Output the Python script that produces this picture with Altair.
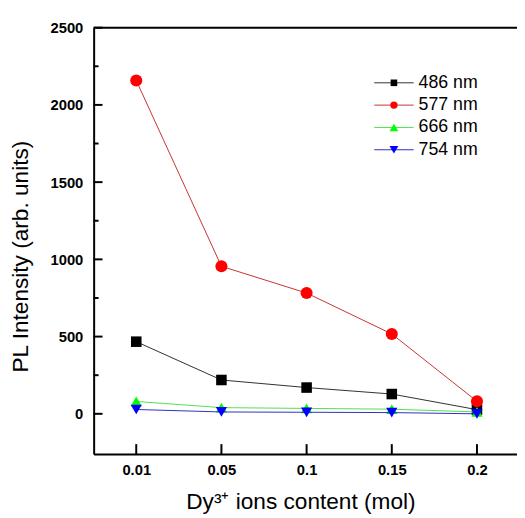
import json
import altair as alt
import pandas as pd

categories = ["0.01", "0.05", "0.1", "0.15", "0.2"]
series = ["486 nm", "577 nm", "666 nm", "754 nm"]
v486 = [467, 219, 170, 128, 27]
v577 = [2158, 955, 782, 517, 81]
v666 = [80, 40, 35, 30, 12]
v754 = [28, 12, 10, 8, 0]
marker_colors = ["#000000", "#ff0000", "#00ff00", "#0000ff"]
line_colors = ["#303030", "#c83232", "#50e050", "#3030c0"]
shapes = ["square", "circle", "triangle-up", "triangle-down"]
marker_sizes = [115, 150, 130, 130]
legend_sizes = [45, 55, 80, 80]
y_major = [0, 500, 1000, 1500, 2000, 2500]
y_minor = [250, 750, 1250, 1750, 2250]

rows = []
for name, vals in zip(series, [v486, v577, v666, v754]):
    for i, v in enumerate(vals):
        rows.append({"series": name, "xi": i, "value": v})
df = pd.DataFrame(rows)

W, H = 430, 433
FONT = "Liberation Sans"

xscale = alt.Scale(domain=[-0.5, 4.47], nice=False, zero=False)
yscale = alt.Scale(domain=[-260, 2500], nice=False, zero=False)

xaxis = alt.Axis(
    values=list(range(len(categories))),
    labelExpr=json.dumps(categories) + "[datum.value]",
    title="Dy³⁺ ions content (mol)",
    domain=True, domainColor="black", domainWidth=2,
    ticks=False, grid=False,
    labelFont=FONT, labelFontSize=15, labelFontWeight="bold", labelColor="black",
    labelPadding=9, labelFlush=False, labelOverlap=False,
    titleFont=FONT, titleFontSize=23, titleFontWeight="normal", titleColor="black",
    titleX=210, titleY=48, titleAlign="center", titleBaseline="middle",
)
yaxis = alt.Axis(
    values=y_major, format="d",
    title="PL Intensity (arb. units)",
    domain=True, domainColor="black", domainWidth=2,
    ticks=False, grid=False,
    labelFont=FONT, labelFontSize=15, labelFontWeight="bold", labelColor="black",
    labelPadding=11, labelFlush=False, labelOverlap=False,
    titleFont=FONT, titleFontSize=23, titleFontWeight="normal", titleColor="black",
    titleX=-74, titleY=232, titleAngle=270, titleAlign="center", titleBaseline="middle",
)

X = alt.X("xi:Q", scale=xscale, axis=xaxis)
Y = alt.Y("value:Q", scale=yscale, axis=yaxis)

base = alt.Chart(df)
data_layers = []
for i, name in enumerate(series):
    sub = base.transform_filter(alt.datum.series == name)
    data_layers.append(
        sub.mark_line(color=line_colors[i], strokeWidth=1).encode(x=X, y=Y)
    )
    data_layers.append(
        sub.mark_point(filled=True, shape=shapes[i], size=marker_sizes[i],
                       color=marker_colors[i], opacity=1).encode(x=X, y=Y)
    )

ytick_major = alt.Chart(pd.DataFrame({"value": y_major})).mark_rule(
    color="black", strokeWidth=2).encode(
    y=Y, x=alt.value(0), x2=alt.value(9))
ytick_minor = alt.Chart(pd.DataFrame({"value": y_minor})).mark_rule(
    color="black", strokeWidth=2).encode(
    y=Y, x=alt.value(0), x2=alt.value(5))
xtick = alt.Chart(pd.DataFrame({"xi": list(range(len(categories)))})).mark_rule(
    color="black", strokeWidth=2).encode(
    x=X, y=alt.value(H), y2=alt.value(H - 10))
top_line = alt.Chart(pd.DataFrame({"a": [0]})).mark_rule(
    color="black", strokeWidth=2).encode(
    x=alt.value(0), x2=alt.value(W), y=alt.value(0))

main = alt.layer(*data_layers, ytick_major, ytick_minor, xtick, top_line)

leg_y = alt.Y("series:N",
              scale=alt.Scale(type="point", domain=series, range=[56, 124], padding=0),
              axis=None)
leg_layers = []
for i, name in enumerate(series):
    ld = alt.Chart(pd.DataFrame({"series": [name]}))
    leg_layers.append(ld.mark_rule(color=line_colors[i], strokeWidth=1).encode(
        y=leg_y, x=alt.value(285), x2=alt.value(325)))
    leg_layers.append(ld.mark_point(filled=True, shape=shapes[i], size=legend_sizes[i],
                                    color=marker_colors[i], opacity=1).encode(
        y=leg_y, x=alt.value(305)))
    leg_layers.append(ld.mark_text(align="left", baseline="middle", font=FONT,
                                   fontSize=18, color="black").encode(
        y=leg_y, x=alt.value(330), text="series:N"))
legend = alt.layer(*leg_layers)

chart = alt.layer(main, legend).resolve_scale(y="independent").properties(
    width=W, height=H,
    autosize=alt.AutoSizeParams(type="none"),
    padding={"left": 87, "top": 16, "right": 0, "bottom": 58},
).configure_view(stroke=None)

chart.save("out.html", embed_options={"renderer": "svg", "actions": False})
